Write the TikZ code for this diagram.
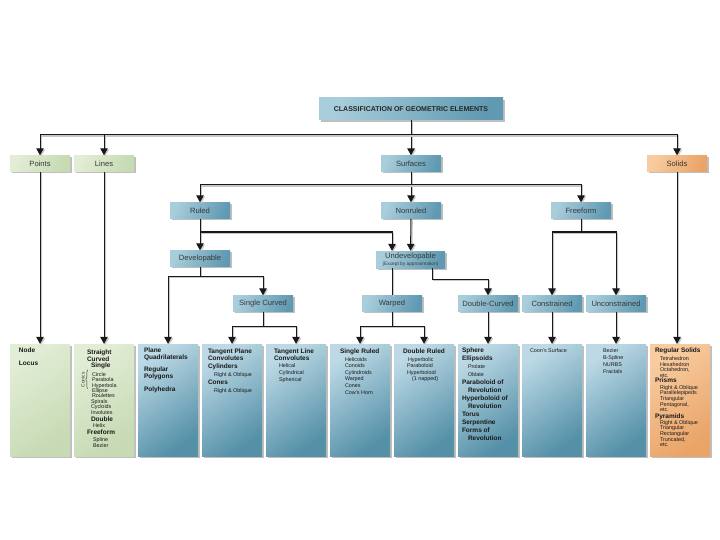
\documentclass[tikz,border=0pt]{standalone}
\usepackage{fontspec}
\setmainfont{Liberation Sans}
\usetikzlibrary{arrows.meta,shadows,decorations.pathreplacing}
\definecolor{geomidL}{RGB}{168,205,219}
\definecolor{geomidD}{RGB}{96,154,178}
\definecolor{geocolL}{RGB}{188,217,229}
\definecolor{geocolD}{RGB}{84,144,168}
\definecolor{geogreenL}{RGB}{226,237,213}
\definecolor{geogreenD}{RGB}{198,218,180}
\definecolor{geoorangeL}{RGB}{248,204,160}
\definecolor{geoorangeD}{RGB}{234,164,104}
\newcommand{\hd}[1]{{\fontsize{6.5}{7}\selectfont\bfseries #1}}
\newcommand{\boxfont}[1]{\fontsize{5.4}{#1}\selectfont\lineskiplimit=-20pt\lineskip=0pt}
\tikzset{geoline/.style={draw=black!90, line width=1pt, preaction={draw=black!22, line width=1.4pt, transform canvas={xshift=1.2pt, yshift=-1.2pt}}},
  geoarrow/.style={geoline, -{Triangle[length=7pt,width=7.5pt]}},
  geoshadow/.style={drop shadow={shadow xshift=1.8pt, shadow yshift=-1.8pt, fill=black!28, opacity=0.9}},
  geomid/.style={rectangle, geoshadow, minimum width=60pt, minimum height=16pt, inner sep=1pt, font=\fontsize{7.6}{8}\selectfont, text=black!78, left color=geomidL, right color=geomidD, shading angle=70},
  geogreen/.style={geomid, left color=geogreenL, right color=geogreenD, shading angle=70},
  geoorange/.style={geomid, left color=geoorangeL, right color=geoorangeD, shading angle=70},
  geocol/.style={rectangle, geoshadow, minimum width=60pt, minimum height=112pt, inner sep=0pt, left color=geocolL, right color=geocolD, shading angle=35},
  geocolgreen/.style={geocol, left color=geogreenL, right color=geogreenD, shading angle=35},
  geocolorange/.style={geocol, left color=geoorangeL, right color=geoorangeD, shading angle=35},
  geotext/.style={anchor=north west, inner sep=0pt, align=left, text=black!90}}
\begin{document}
\begin{tikzpicture}[x=1pt, y=-1pt]
\useasboundingbox (0,0) rectangle (720,540);
% upper levels
\node[geomid, minimum width=184pt, minimum height=22pt, font=\fontsize{7}{8}\selectfont\bfseries, text=black!85] (title) at (411,109) {CLASSIFICATION OF GEOMETRIC ELEMENTS};
\node[geogreen] (points) at (40,163.5) {Points};
\node[geogreen] (lines) at (104,163.5) {Lines};
\node[geomid] (surfaces) at (411,163.5) {Surfaces};
\node[geoorange] (solids) at (677,163.5) {Solids};
\node[geomid] (ruled) at (200,210.5) {Ruled};
\node[geomid] (nonruled) at (411,210.5) {Nonruled};
\node[geomid] (freeform) at (581,210.5) {Freeform};
\node[geomid] (devel) at (200,258.5) {Developable};
\node[geomid, minimum width=69pt, minimum height=17pt, inner sep=0pt, align=center] (undev) at (410.5,259.5) {Undevelopable\\[-1.5pt]{\fontsize{4.8}{5}\selectfont(Except by approximation)}};
\node[geomid] (scurved) at (263,303.5) {Single Curved};
\node[geomid] (warped) at (392,303.5) {Warped};
\node[geomid] (dcurved) at (488,303.5) {Double-Curved};
\node[geomid] (constr) at (552,303.5) {Constrained};
\node[geomid] (unconstr) at (616,303.5) {Unconstrained};
% columns
\node[geocolgreen] (nodecol) at (40,400) {};
\node[geocolgreen] (linecol) at (104,400) {};
\node[geocol] (planecol) at (168,400) {};
\node[geocol] (tplanecol) at (232,400) {};
\node[geocol] (tlinecol) at (296,400) {};
\node[geocol] (sruledcol) at (360,400) {};
\node[geocol] (druledcol) at (424,400) {};
\node[geocol] (spherecol) at (488,400) {};
\node[geocol] (coonscol) at (552,400) {};
\node[geocol] (freecol) at (616,400) {};
\node[geocolorange] (solidcol) at (680,400) {};
% column texts
\node[geotext, font=\boxfont{7}] (nodetxt) at ([shift={(9pt,-3.7pt)}]nodecol.north west) {\hd{Node}\\[6pt]\hd{Locus}};
\node[geotext, font=\boxfont{5.4}] (linetxt) at ([shift={(13pt,-5.5pt)}]linecol.north west) {\hd{Straight}\\[1.6pt]\hd{Curved}\\[1.1pt]\hspace*{4pt}\hd{Single}\\[3.1pt]
  \hspace*{5pt}Circle\\\hspace*{5pt}Parabola\\\hspace*{5pt}Hyperbola\\\hspace*{5pt}Ellipse\\\hspace*{5pt}Roulettes\\\hspace*{4pt}Spirals\\\hspace*{4pt}Cycloids\\\hspace*{4pt}Involutes\\[1.6pt]
  \hspace*{4pt}\hd{Double}\\[0.6pt]\hspace*{6pt}Helix\\[1.6pt]\hd{Freeform}\\[1.6pt]\hspace*{6pt}Spline\\[0.6pt]\hspace*{6pt}Bezier};
\node[rotate=90, font=\fontsize{4.8}{5}\selectfont, text=black!80, inner sep=0pt] (conics) at ([shift={(9pt,-36pt)}]linecol.north west) {Conics};
\draw[decorate, decoration={brace, amplitude=2pt}, line width=0.4pt, black!80] ([shift={(14pt,-45pt)}]linecol.north west) -- ([shift={(14pt,-26pt)}]linecol.north west);
\node[geotext, font=\boxfont{7}] (planetxt) at ([shift={(6pt,-3.7pt)}]planecol.north west) {\hd{Plane}\\\hd{Quadrilaterals}\\[5pt]\hd{Regular}\\\hd{Polygons}\\[6.5pt]\hd{Polyhedra}};
\node[geotext, font=\boxfont{7.8}] (tplanetxt) at ([shift={(6pt,-4.3pt)}]tplanecol.north west) {\hd{Tangent Plane}\\\hd{Convolutes}\\\hd{Cylinders}\\\hspace*{6pt}Right \& Oblique\\\hd{Cones}\\\hspace*{6pt}Right \& Oblique};
\node[geotext, font=\boxfont{7.2}] (tlinetxt) at ([shift={(8pt,-4.3pt)}]tlinecol.north west) {\hd{Tangent Line}\\\hd{Convolutes}\\\hspace*{5pt}Helical\\\hspace*{5pt}Cylindrical\\\hspace*{5pt}Spherical};
\node[geotext, font=\boxfont{6.6}] (sruledtxt) at ([shift={(10pt,-4.3pt)}]sruledcol.north west) {\hd{Single Ruled}\\[1.4pt]\hspace*{5pt}Helicoids\\\hspace*{5pt}Conoids\\\hspace*{5pt}Cylindroids\\\hspace*{5pt}Warped\\\hspace*{5pt}Cones\\\hspace*{5pt}Cow's Horn};
\node[geotext, font=\boxfont{6.6}] (druledtxt) at ([shift={(9pt,-4.3pt)}]druledcol.north west) {\hd{Double Ruled}\\[1.4pt]\hspace*{5pt}Hyperbolic\\\hspace*{4pt}Paraboloid\\\hspace*{4pt}Hyperboloid\\\hspace*{9pt}(1 napped)};
\node[geotext, font=\boxfont{8}] (spheretxt) at ([shift={(4pt,-3.7pt)}]spherecol.north west) {\hd{Sphere}\\\hd{Ellipsoids}\\\hspace*{6pt}Prolate\\\hspace*{6pt}Oblate\\\hd{Paraboloid of}\\\hspace*{6pt}\hd{Revolution}\\\hd{Hyperboloid of}\\\hspace*{6pt}\hd{Revolution}\\\hd{Torus}\\\hd{Serpentine}\\\hd{Forms of}\\\hspace*{6pt}\hd{Revolution}};
\node[geotext, font=\boxfont{7}] (coonstxt) at ([shift={(8pt,-4.1pt)}]coonscol.north west) {Coon's Surface};
\node[geotext, font=\boxfont{7}] (freetxt) at ([shift={(17pt,-4.1pt)}]freecol.north west) {Bezier\\B-Spline\\NURBS\\Fractals};
\node[geotext, font=\boxfont{5.6}] (solidtxt) at ([shift={(5pt,-3.7pt)}]solidcol.north west) {\hd{Regular Solids}\\[2.4pt]\hspace*{5pt}Tetrahedron\\\hspace*{5pt}Hexahedron\\\hspace*{5pt}Octahedron,\\\hspace*{5pt}etc.\\\hd{Prisms}\\[0.9pt]\hspace*{5pt}Right \& Oblique\\\hspace*{5pt}Parallelepipeds\\\hspace*{5pt}Triangular\\\hspace*{5pt}Pentagonal,\\\hspace*{5pt}etc.\\[1.4pt]\hd{Pyramids}\\\hspace*{5pt}Right \& Oblique\\\hspace*{5pt}Triangular\\\hspace*{5pt}Rectangular\\\hspace*{5pt}Truncated,\\\hspace*{5pt}etc.};
% connectors
\coordinate (bus) at (411,135);
\coordinate (surfbus) at (411,185);
\coordinate (ruledbus) at (200,232);
\coordinate (freebus) at (581,232);
\coordinate (devbus) at (200,276);
\coordinate (dcbend) at (432,279);
\coordinate (scbus) at (263,326);
\coordinate (wbus) at (392,326);
\draw[geoarrow] (title) -- (surfaces);
\draw[geoarrow] (bus) -| (points);
\draw[geoarrow] (bus) -| (lines);
\draw[geoarrow] (bus) -| (solids);
\draw[geoarrow] (surfaces) -- (nonruled);
\draw[geoarrow] (surfbus) -| (ruled);
\draw[geoarrow] (surfbus) -| (freeform);
\draw[geoarrow] (ruled) -- (devel);
\draw[geoarrow] (ruledbus) -| (undev.north -| warped);
\draw[geoarrow] (nonruled) -- (undev);
\draw[geoline] (freeform) -- (freebus);
\draw[geoarrow] (freebus) -| (constr);
\draw[geoarrow] (freebus) -| (unconstr);
\draw[geoline] (devel) -- (devbus);
\draw[geoarrow] (devbus) -| (planecol);
\draw[geoarrow] (devbus) -| (scurved);
\draw[geoline] (undev.south -| warped) -- (warped);
\draw[geoarrow] (undev.south -| dcbend) -- (dcbend) -| (dcurved);
\draw[geoline] (scurved) -- (scbus);
\draw[geoarrow] (scbus) -| (tplanecol);
\draw[geoarrow] (scbus) -| (tlinecol);
\draw[geoline] (warped) -- (wbus);
\draw[geoarrow] (wbus) -| (sruledcol);
\draw[geoarrow] (wbus) -| (druledcol);
\draw[geoarrow] (dcurved) -- (spherecol);
\draw[geoarrow] (constr) -- (coonscol);
\draw[geoarrow] (unconstr) -- (freecol);
\draw[geoarrow] (solids) -- (solids |- solidcol.north);
\draw[geoarrow] (points) -- (nodecol);
\draw[geoarrow] (lines) -- (linecol);
\end{tikzpicture}
\end{document}
